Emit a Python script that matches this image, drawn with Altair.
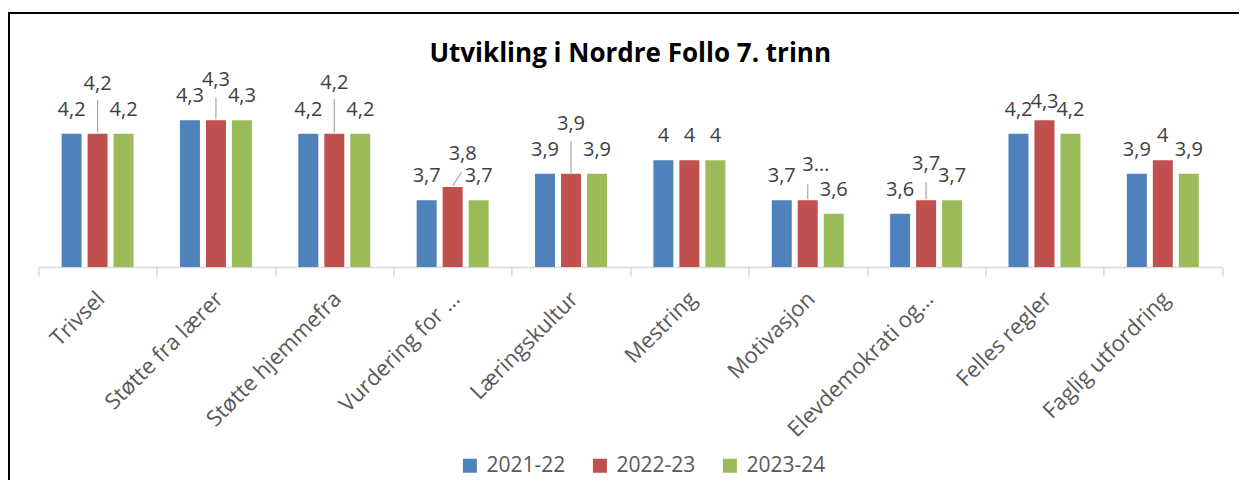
import altair as alt
import pandas as pd

categories = ["Trivsel", "Støtte fra lærer", "Støtte hjemmefra", "Vurdering for …",
              "Læringskultur", "Mestring", "Motivasjon", "Elevdemokrati og…",
              "Felles regler", "Faglig utfordring"]
series = ["2021-22", "2022-23", "2023-24"]
v_2021 = [4.2, 4.3, 4.2, 3.7, 3.9, 4.0, 3.7, 3.6, 4.2, 3.9]
v_2022 = [4.2, 4.3, 4.2, 3.8, 3.9, 4.0, 3.7, 3.7, 4.3, 4.0]
v_2023 = [4.2, 4.3, 4.2, 3.7, 3.9, 4.0, 3.6, 3.7, 4.2, 3.9]
colors = ["#4f81bd", "#c0504d", "#9bbb59"]

# label text as displayed (comma decimal); one label truncated in the original
def fmt(v):
    return f"{v:g}".replace(".", ",")

rows = []
for s, vals in zip(series, [v_2021, v_2022, v_2023]):
    for c, v in zip(categories, vals):
        lab = fmt(v)
        if s == "2022-23" and c == "Motivasjon":
            lab = "3…"
        rows.append({"cat": c, "series": s, "value": v, "label": lab})
df = pd.DataFrame(rows)

# callout layout for the middle series (label dx, dy, leader top, leader dx)
callouts = {
    "Trivsel": (0, -44, -34, 0),
    "Støtte fra lærer": (0, -34, -23, 0),
    "Støtte hjemmefra": (0, -45, -35, 0),
    "Vurdering for …": (10, -27, -15, 9),
    "Læringskultur": (0, -44, -33, 0),
    "Motivasjon": (8, -29, -16, 0),
    "Elevdemokrati og…": (0, -30, -18, 0),
    "Felles regler": (0, -12, None, 0),
}

W, H = 1183.6, 160
YMIN, YMAX = 3.2, 4.4
FONT = "Open Sans"
LBL = 20

base = alt.Chart(df)
xenc = alt.X("cat:N", sort=categories,
             scale=alt.Scale(paddingInner=0, paddingOuter=0),
             axis=alt.Axis(title=None, labelAngle=-45, labelAlign="right",
                           labelBaseline="middle", labelFont=FONT, labelFontSize=22,
                           labelColor="#595959", labelPadding=19, labelOffset=3,
                           domainColor="#d9d9d9", domainWidth=1.5,
                           tickColor="#d9d9d9", tickWidth=1.5, tickSize=9,
                           tickBand="extent", labelLimit=300))
xoff = alt.XOffset("series:N", sort=series,
                   scale=alt.Scale(paddingInner=0.2308, paddingOuter=0.892))
yenc = alt.Y("value:Q", scale=alt.Scale(domain=[YMIN, YMAX], zero=False), axis=None)

bars = base.mark_bar().encode(
    x=xenc, xOffset=xoff, y=yenc, y2=alt.datum(YMIN),
    color=alt.Color("series:N", sort=series,
                    scale=alt.Scale(domain=series, range=colors),
                    legend=alt.Legend(title=None, orient="none", direction="horizontal",
                                      legendX=421, legendY=348, symbolType="square",
                                      symbolSize=196, symbolStrokeWidth=0,
                                      labelFont=FONT, labelFontSize=21,
                                      labelColor="#595959", labelOffset=6,
                                      columnPadding=24, padding=0)),
)

cc = list(callouts.keys())
not_callout = "!(datum.series == '2022-23' && indexof(%s, datum.cat) >= 0)" % str(cc).replace('"', "'")
normal_labels = base.transform_filter(not_callout).mark_text(
    dy=-18, baseline="alphabetic", font=FONT, fontSize=LBL, color="#404040"
).encode(x=alt.X("cat:N", sort=categories), xOffset=xoff, y=yenc, text="label:N")

layers = [bars, normal_labels]
for c, (dx, dy, ltop, ldx) in callouts.items():
    sub = base.transform_filter((alt.datum.cat == c) & (alt.datum.series == "2022-23"))
    layers.append(sub.mark_text(dx=dx, dy=dy, baseline="alphabetic", font=FONT,
                                fontSize=LBL, color="#404040").encode(
        x=alt.X("cat:N", sort=categories), y=yenc, text="label:N"))
    if ltop is not None:
        layers.append(sub.mark_rule(color="#a6a6a6", strokeWidth=1.2,
                                    x2Offset=ldx, y2Offset=ltop, yOffset=-1).encode(
            x=alt.X("cat:N", sort=categories, bandPosition=0.5),
            x2=alt.X2("cat", bandPosition=0.5),
            y=yenc, y2="value:Q"))

frame_df = pd.DataFrame({"k": [0]})
top_line = alt.Chart(frame_df).mark_rule(color="#000000", strokeWidth=2).encode(
    x=alt.value(-29.4), x2=alt.value(W + 17), y=alt.value(-94))
left_line = alt.Chart(frame_df).mark_rule(color="#000000", strokeWidth=2).encode(
    x=alt.value(-29.4), y=alt.value(-95), y2=alt.value(373))
layers += [top_line, left_line]

chart = alt.layer(*layers).properties(
    width=W, height=H,
    title=alt.Title("Utvikling i Nordre Follo 7. trinn", font=FONT, fontSize=26,
                    fontWeight="bold", color="#000000", anchor="middle", offset=0,
                    dy=56),
    padding={"left": 30.4, "top": 99, "right": 17, "bottom": 213},
    autosize=alt.AutoSizeParams(type="none"),
).configure_view(stroke=None)

chart.save("out.html", embed_options={"renderer": "svg", "actions": False})
